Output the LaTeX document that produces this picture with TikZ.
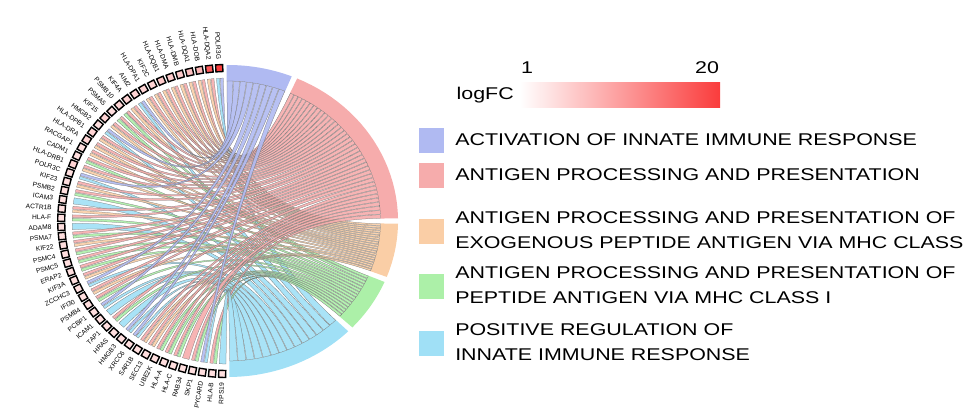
\documentclass[tikz,border=0pt]{standalone}
\usepackage{fontspec}
\setmainfont{Liberation Sans}
\definecolor{colA}{RGB}{176,186,242}
\definecolor{colB}{RGB}{246,172,172}
\definecolor{colC}{RGB}{250,206,166}
\definecolor{colD}{RGB}{172,240,168}
\definecolor{colE}{RGB}{160,224,246}
\definecolor{fcred}{RGB}{250,60,60}
\def\cx{228}\def\cy{195}\def\ex{1.09}
\def\tsA{90.5}\def\teA{68}\def\tnA{9}
\def\tsB{66}\def\teB{1}\def\tnB{38}
\def\tsC{-1}\def\teC{-21}\def\tnC{21}
\def\tsD{-23}\def\teD{-43}\def\tnD{16}
\def\tsE{-45}\def\teE{-89.5}\def\tnE{14}
\def\cntA{0}\def\cntB{0}\def\cntC{0}\def\cntD{0}\def\cntE{0}
\tikzset{
 gsq/.style={draw=black,line width=1.4pt,minimum size=7pt,inner sep=0pt},
 glab/.style={font=\fontsize{6.6}{7}\selectfont,inner sep=0pt,anchor=east},
 rib/.style={draw=black!55,line width=0.25pt,fill opacity=0.9},
 legbox/.style={minimum width=25pt,minimum height=25pt,inner sep=0pt},
 legtxt/.style={font=\fontsize{17}{25}\selectfont,anchor=west,align=left,inner sep=0pt,xscale=1.26}
}
\begin{document}
\begin{tikzpicture}[x=1pt,y=1pt]
\useasboundingbox (0,0) rectangle (971,416);
% term bands
\foreach \t in {A,B,C,D,E}{
 \fill[col\t] plot[domain=\csname ts\t\endcsname:\csname te\t\endcsname,samples=25] ({\cx+\ex*156*cos(\x)},{\cy+156*sin(\x)})
   -- plot[domain=\csname te\t\endcsname:\csname ts\t\endcsname,samples=25] ({\cx+\ex*140*cos(\x)},{\cy+140*sin(\x)}) -- cycle;
}
% genes and ribbons
\foreach \gname/\gk/\gmem/\gfc [count=\i from 0] in {
POLR3G/2/{A,E}/18, HLA-DQA2/2/{B,C}/15, HLA-DOB/2/{B,C}/6, HLA-DQA1/2/{B,C}/5, HLA-DMB/2/{B,C}/4,
HLA-DMA/2/{B,C}/4, HLA-DQB1/2/{B,C}/4, KIF2C/2/{B,C}/3, HLA-DPA1/2/{B,C}/3, AIM2/2/{A,E}/3,
KIF4A/2/{B,C}/3, PSMB10/2/{B,D}/3, PSMA5/2/{B,D}/2, KIF15/2/{B,C}/3, HMGB2/2/{A,E}/2,
HLA-DPB1/2/{B,C}/3, HLA-DRA/2/{B,C}/3, RACGAP1/2/{B,C}/2, CADM1/2/{B,D}/2, HLA-DRB1/2/{B,C}/3,
POLR3C/2/{A,E}/2, KIF23/2/{B,C}/2, PSMB2/2/{B,D}/2, ICAM3/1/{E}/2, ACTR1B/2/{B,C}/2,
HLA-F/2/{B,D}/2, ADAM8/1/{E}/2, PSMA7/2/{B,D}/2, KIF22/2/{B,C}/2, PSMC4/2/{B,D}/2,
PSMC5/2/{B,D}/2, ERAP2/2/{B,D}/2, KIF3A/2/{B,C}/2, ZCCHC3/2/{A,E}/2, IFI30/2/{B,C}/2,
PSMB4/2/{B,D}/2, PCBP1/2/{A,E}/2, ICAM1/1/{E}/2, TAP1/2/{B,D}/2, HRAS/1/{E}/2,
HMGB3/2/{A,E}/2, XRCC6/2/{A,E}/2, SAR1B/2/{B,C}/2, SEC13/2/{B,C}/2, UBE2K/2/{B,D}/2,
HLA-A/2/{B,D}/2, HLA-C/2/{B,D}/2, RAB34/1/{B}/2, SKP1/2/{B,D}/2, PYCARD/2/{A,E}/2,
HLA-B/2/{B,D}/2, RPS19/1/{E}/2}{
 \pgfmathsetmacro\ga{93+\i*175/51}
 \foreach \t [count=\j from 0] in \gmem {
  \pgfmathsetmacro\gaa{\ga-1.4+\j*2.8/\gk+0.15}
  \pgfmathsetmacro\gab{\ga-1.4+(\j+1)*2.8/\gk-0.15}
  \pgfmathsetmacro\ts{\csname ts\t\endcsname}
  \pgfmathsetmacro\te{\csname te\t\endcsname}
  \pgfmathsetmacro\tn{\csname tn\t\endcsname}
  \pgfmathsetmacro\n{\csname cnt\t\endcsname}
  \pgfmathsetmacro\stp{(\te-\ts)/\tn}
  \pgfmathsetmacro\tbig{\ts+\n*\stp-0.12}
  \pgfmathsetmacro\tsmall{\ts+(\n+1)*\stp+0.12}
  \pgfmathtruncatemacro\nn{\n+1}
  \expandafter\xdef\csname cnt\t\endcsname{\nn}
  \coordinate (g1) at ({\cx+\ex*143*cos(\gaa)},{\cy+143*sin(\gaa)});
  \coordinate (g2) at ({\cx+\ex*143*cos(\gab)},{\cy+143*sin(\gab)});
  \coordinate (c2) at ({\cx+\ex*45*cos(\gab)},{\cy+45*sin(\gab)});
  \coordinate (c1) at ({\cx+\ex*45*cos(\gaa)},{\cy+45*sin(\gaa)});
  \coordinate (t1) at ({\cx+\ex*140*cos(\tsmall)},{\cy+140*sin(\tsmall)});
  \coordinate (t2) at ({\cx+\ex*140*cos(\tbig)},{\cy+140*sin(\tbig)});
  \coordinate (d1) at ({\cx+\ex*45*cos(\tsmall)},{\cy+45*sin(\tsmall)});
  \coordinate (d2) at ({\cx+\ex*45*cos(\tbig)},{\cy+45*sin(\tbig)});
  \filldraw[rib,fill=col\t] (g1) -- (g2) .. controls (c2) and (d1) .. (t1) -- (t2) .. controls (d2) and (c1) .. (g1) -- cycle;
 }
 \pgfmathtruncatemacro\pct{min(100,(\gfc-1)/19*100+12)}
 \node[gsq,fill=fcred!\pct!white,rotate=\ga] (sq\i) at ({\cx+\ex*153*cos(\ga)},{\cy+153*sin(\ga)}) {};
 \node[glab,rotate=\ga+180] (lb\i) at ({\cx+\ex*162*cos(\ga)},{\cy+162*sin(\ga)}) {\gname};
}
% colour scale
\shade[left color=white,right color=fcred] (520,309) rectangle (720,334);
\node[legtxt,anchor=east] (lfc) at (514,321) {logFC};
\node[legtxt,anchor=center] (l1) at (527,348) {1};
\node[legtxt,anchor=center] (l20) at (707,348) {20};
% legend
\node[legbox,fill=colA] (kA) at (431,276) {};
\node[legtxt] (xA) at (455,276) {ACTIVATION OF INNATE IMMUNE RESPONSE};
\node[legbox,fill=colB] (kB) at (431,241) {};
\node[legtxt] (xB) at (455,241) {ANTIGEN PROCESSING AND PRESENTATION};
\node[legbox,fill=colC] (kC) at (431,185) {};
\node[legtxt] (xC) at (455,186) {ANTIGEN PROCESSING AND PRESENTATION OF\\EXOGENOUS PEPTIDE ANTIGEN VIA MHC CLASS};
\node[legbox,fill=colD] (kD) at (431,130) {};
\node[legtxt] (xD) at (455,131) {ANTIGEN PROCESSING AND PRESENTATION OF\\PEPTIDE ANTIGEN VIA MHC CLASS I};
\node[legbox,fill=colE] (kE) at (431,73) {};
\node[legtxt] (xE) at (455,74) {POSITIVE REGULATION OF\\INNATE IMMUNE RESPONSE};
\end{tikzpicture}
\end{document}
